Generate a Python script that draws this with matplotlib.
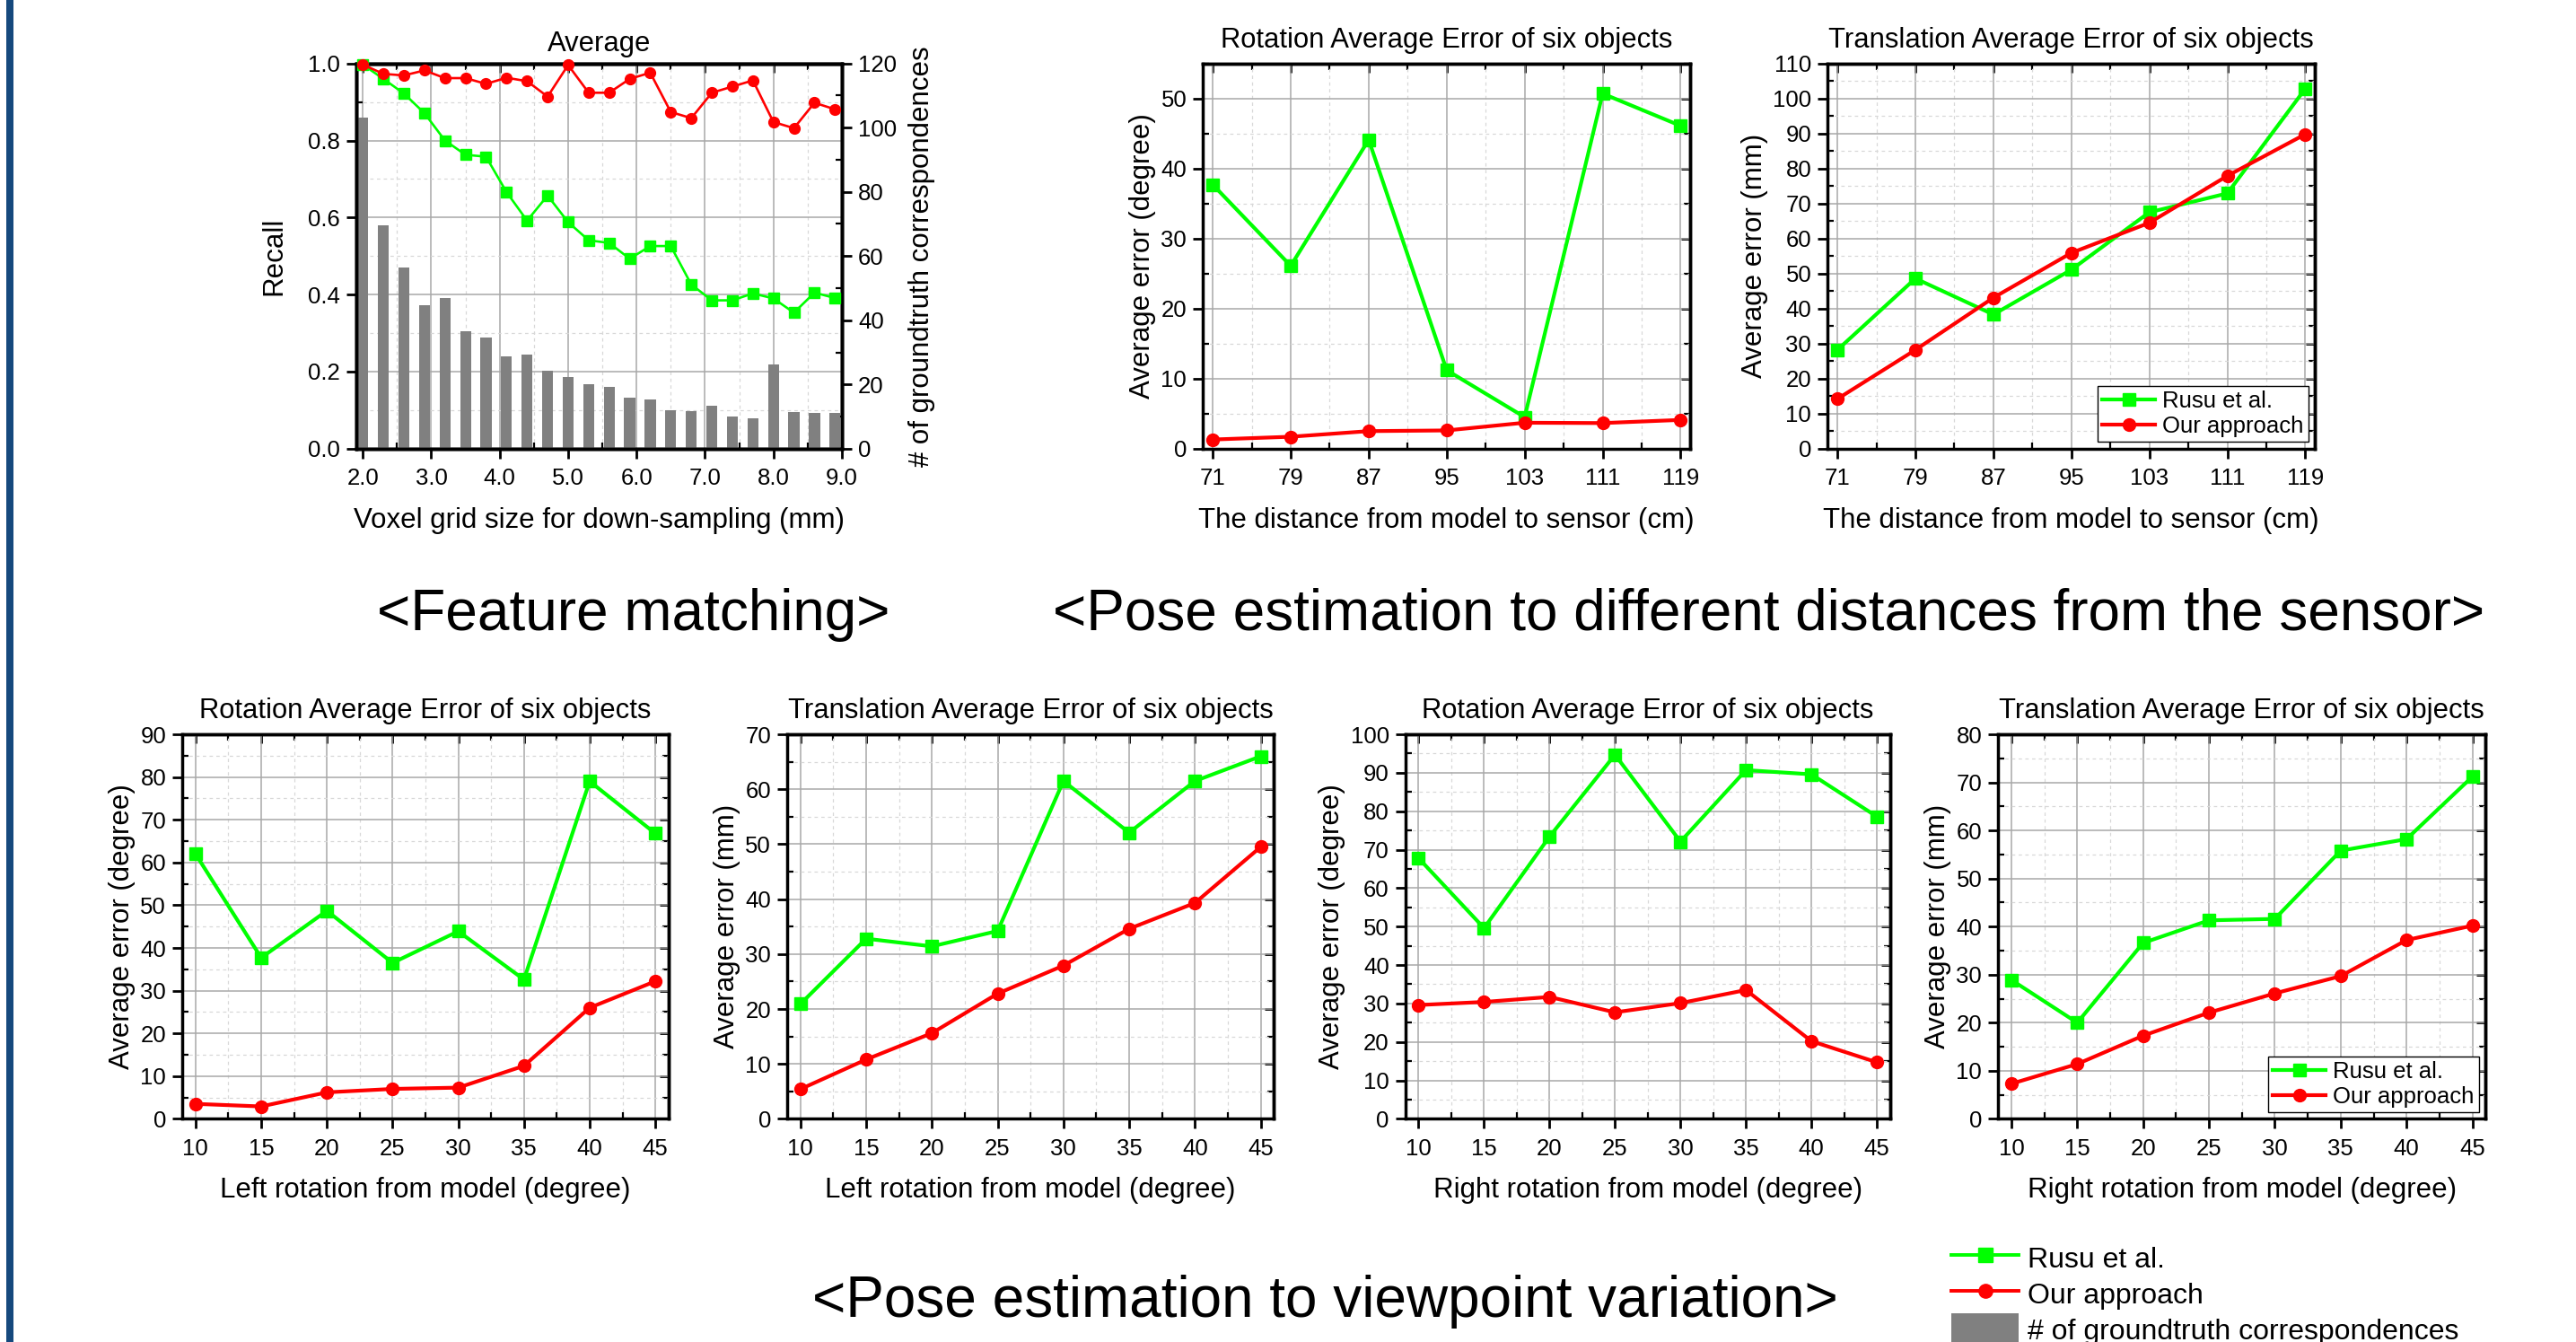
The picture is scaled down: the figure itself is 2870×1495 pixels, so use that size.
import matplotlib
matplotlib.use('Agg')
import matplotlib.pyplot as plt
from matplotlib.lines import Line2D
from matplotlib.patches import Patch, Rectangle
from matplotlib.ticker import MultipleLocator, FormatStrFormatter

plt.rcParams['font.family'] = ['Liberation Sans', 'DejaVu Sans']

# ---------------- data ----------------
voxel_sizes = [2.0, 2.3, 2.6, 2.9, 3.2, 3.5, 3.8, 4.1, 4.4, 4.7, 5.0, 5.3,
               5.6, 5.9, 6.2, 6.5, 6.8, 7.1, 7.4, 7.7, 8.0, 8.3, 8.6, 8.9]
recall_rusu = [0.997, 0.960, 0.922, 0.871, 0.800, 0.763, 0.758, 0.666, 0.592, 0.657, 0.588, 0.541,
               0.534, 0.493, 0.526, 0.526, 0.426, 0.385, 0.385, 0.403, 0.390, 0.353, 0.405, 0.391]
recall_ours = [0.997, 0.973, 0.969, 0.982, 0.962, 0.962, 0.947, 0.963, 0.954, 0.914, 0.996, 0.924,
               0.924, 0.960, 0.976, 0.874, 0.858, 0.924, 0.940, 0.956, 0.848, 0.832, 0.898, 0.881]
gt_counts = [103.1, 69.5, 56.3, 44.7, 46.8, 36.6, 34.7, 28.8, 29.3, 24.3, 22.4, 20.0,
             19.1, 15.9, 15.4, 12.0, 11.7, 13.4, 10.0, 9.5, 26.3, 11.5, 11.2, 11.0]

distances = [71, 79, 87, 95, 103, 111, 119]
dist_rot_rusu = [37.7, 26.1, 44.1, 11.2, 4.5, 50.7, 46.1]
dist_rot_ours = [1.3, 1.7, 2.5, 2.6, 3.7, 3.65, 4.1]
dist_trans_rusu = [28.2, 48.6, 38.3, 51.1, 67.5, 72.9, 102.8]
dist_trans_ours = [14.2, 28.2, 43.1, 55.9, 64.5, 77.9, 89.8]

angles = [10, 15, 20, 25, 30, 35, 40, 45]
left_rot_rusu = [62.0, 37.7, 48.7, 36.5, 43.9, 32.6, 79.0, 66.8]
left_rot_ours = [3.5, 2.9, 6.2, 7.0, 7.3, 12.4, 26.0, 32.2]
left_trans_rusu = [20.9, 32.8, 31.4, 34.2, 61.5, 52.1, 61.5, 66.0]
left_trans_ours = [5.4, 10.8, 15.6, 22.8, 27.9, 34.6, 39.3, 49.5]
right_rot_rusu = [67.8, 49.6, 73.4, 94.7, 72.1, 90.7, 89.6, 78.6]
right_rot_ours = [29.6, 30.4, 31.7, 27.7, 30.1, 33.5, 20.2, 14.7]
right_trans_rusu = [28.9, 20.0, 36.6, 41.3, 41.6, 55.8, 58.2, 71.2]
right_trans_ours = [7.3, 11.4, 17.3, 22.1, 26.1, 29.7, 37.2, 40.2]

series_names = ['Rusu et al.', 'Our approach', '# of groundtruth correspondences']

# ---------------- style ----------------
GREEN = '#00ff00'
RED = '#ff0000'
BAR = '#808080'
SP_LW = 2.5
TICK_FS = 18.5
LABEL_FS = 22.5
TITLE_FS = 22.3
LEG_FS = 18.5

fig = plt.figure(figsize=(28.7, 14.95), dpi=100)
fig.patch.set_facecolor('white')


def midpoints(v):
    return [(a + b) / 2 for a, b in zip(v[:-1], v[1:])]


def setup(ax, xticks, xminor, ystep, xlim, ylim, yfmt=None, xfmt=None, right_sec=True):
    ax.set_xlim(xlim)
    ax.set_ylim(ylim)
    ax.set_xticks(xticks)
    ax.set_xticks(xminor, minor=True)
    ax.yaxis.set_major_locator(MultipleLocator(ystep))
    ax.yaxis.set_minor_locator(MultipleLocator(ystep / 2))
    if yfmt:
        ax.yaxis.set_major_formatter(FormatStrFormatter(yfmt))
    if xfmt:
        ax.xaxis.set_major_formatter(FormatStrFormatter(xfmt))
    ax.grid(True, which='major', color='#a8a8a8', lw=1.1)
    ax.grid(True, which='minor', color='#d8d8d8', lw=0.9, ls=(0, (3, 3)))
    ax.set_axisbelow(True)
    ax.tick_params(which='major', direction='out', length=8, width=2,
                   labelsize=TICK_FS, pad=5)
    ax.tick_params(axis='x', which='major', pad=7.5)
    ax.tick_params(which='minor', direction='in', length=5, width=1.6)
    for s in ax.spines.values():
        s.set_linewidth(SP_LW)
    top = ax.secondary_xaxis('top')
    top.set_ticks(xticks)
    top.set_ticks(xminor, minor=True)
    top.tick_params(which='major', direction='in', length=7, width=2, labeltop=False)
    top.tick_params(which='minor', direction='in', length=5, width=1.6)
    top.spines['top'].set_linewidth(SP_LW)
    if right_sec:
        r = ax.secondary_yaxis('right')
        r.yaxis.set_major_locator(MultipleLocator(ystep))
        r.yaxis.set_minor_locator(MultipleLocator(ystep / 2))
        r.tick_params(which='major', direction='in', length=7, width=2, labelright=False)
        r.tick_params(which='minor', direction='in', length=5, width=1.6)
        r.spines['right'].set_linewidth(SP_LW)


def plot_pair(ax, x, rusu, ours, lw=3.0, ms=10):
    ax.plot(x, rusu, color=GREEN, marker='s', ms=ms, lw=lw, label=series_names[0],
            clip_on=False, zorder=4)
    ax.plot(x, ours, color=RED, marker='o', ms=ms, lw=lw, label=series_names[1],
            clip_on=False, zorder=5)


def add_legend(ax):
    leg = ax.legend(loc='lower right', fontsize=LEG_FS, frameon=True, fancybox=False,
                    edgecolor='black', framealpha=1, borderpad=0.2, labelspacing=0.15,
                    handlelength=2.3, handletextpad=0.3, borderaxespad=0.3)
    leg.get_frame().set_linewidth(1.0)


# ---------------- panel 1: feature matching ----------------
ax1 = fig.add_axes([0.1382, 0.6657, 0.1886, 0.2870])
setup(ax1, list(range(2, 10)), [x + 0.5 for x in range(2, 9)], 0.2, (1.9, 9.0), (0, 1.0),
      yfmt='%.1f', xfmt='%.1f', right_sec=False)
ax1.set_zorder(1)
axb = ax1.twinx()
axb.set_zorder(2)
axb.patch.set_visible(False)
axb.set_ylim(0, 120)
axb.yaxis.set_major_locator(MultipleLocator(20))
axb.yaxis.set_minor_locator(MultipleLocator(10))
axb.tick_params(axis='y', which='major', direction='out', length=8, width=2,
                labelsize=TICK_FS, pad=5)
axb.tick_params(axis='y', which='minor', direction='in', length=5, width=1.6)
for s in axb.spines.values():
    s.set_linewidth(SP_LW)
axb.bar(voxel_sizes, gt_counts, width=0.16, color=BAR, zorder=2,
        label=series_names[2])
axl = ax1.twinx()
axl.set_zorder(3)
axl.patch.set_visible(False)
axl.set_ylim(0, 1.0)
axl.yaxis.set_visible(False)
for s in axl.spines.values():
    s.set_linewidth(SP_LW)
plot_pair(axl, voxel_sizes, recall_rusu, recall_ours, lw=1.9, ms=8.5)
ax1.set_title('Average', fontsize=TITLE_FS, pad=10)
ax1.set_ylabel('Recall', fontsize=LABEL_FS, labelpad=16)
axb.set_ylabel('# of groundtruth correspondences', fontsize=LABEL_FS, labelpad=9)
ax1.set_xlabel('Voxel grid size for down-sampling (mm)', fontsize=LABEL_FS, labelpad=14)

# ---------------- panel 2 & 3: distance ----------------
ax2 = fig.add_axes([0.4670, 0.6657, 0.1892, 0.2870])
setup(ax2, distances, midpoints(distances), 10, (70, 120), (0, 55))
plot_pair(ax2, distances, dist_rot_rusu, dist_rot_ours)
ax2.set_title('Rotation Average Error of six objects', fontsize=TITLE_FS, pad=13)
ax2.set_ylabel('Average error (degree)', fontsize=LABEL_FS, labelpad=4)
ax2.set_xlabel('The distance from model to sensor (cm)', fontsize=LABEL_FS, labelpad=14)

ax3 = fig.add_axes([0.7095, 0.6657, 0.1892, 0.2870])
setup(ax3, distances, midpoints(distances), 10, (70, 120), (0, 110))
plot_pair(ax3, distances, dist_trans_rusu, dist_trans_ours)
ax3.set_title('Translation Average Error of six objects', fontsize=TITLE_FS, pad=13)
ax3.set_ylabel('Average error (mm)', fontsize=LABEL_FS, labelpad=4)
ax3.set_xlabel('The distance from model to sensor (cm)', fontsize=LABEL_FS, labelpad=14)
add_legend(ax3)

# ---------------- bottom panels: viewpoint ----------------
bottom_specs = [
    ([0.0708, 0.1663, 0.1887, 0.2865], left_rot_rusu, left_rot_ours, 90,
     'Rotation Average Error of six objects', 'Average error (degree)',
     'Left rotation from model (degree)', False),
    ([0.3056, 0.1663, 0.1889, 0.2865], left_trans_rusu, left_trans_ours, 70,
     'Translation Average Error of six objects', 'Average error (mm)',
     'Left rotation from model (degree)', False),
    ([0.5456, 0.1663, 0.1881, 0.2865], right_rot_rusu, right_rot_ours, 100,
     'Rotation Average Error of six objects', 'Average error (degree)',
     'Right rotation from model (degree)', False),
    ([0.7757, 0.1663, 0.1892, 0.2865], right_trans_rusu, right_trans_ours, 80,
     'Translation Average Error of six objects', 'Average error (mm)',
     'Right rotation from model (degree)', True),
]
for rect, rusu, ours, ytop, title, ylab, xlab, leg in bottom_specs:
    ax = fig.add_axes(rect)
    setup(ax, angles, midpoints(angles), 10, (9, 46), (0, ytop))
    plot_pair(ax, angles, rusu, ours)
    ax.set_title(title, fontsize=TITLE_FS, pad=13)
    ax.set_ylabel(ylab, fontsize=LABEL_FS, labelpad=4)
    ax.set_xlabel(xlab, fontsize=LABEL_FS, labelpad=14)
    if leg:
        add_legend(ax)

# ---------------- section captions ----------------
fig.text(706 / 2870, 1 - 701.7 / 1495, '<Feature matching>', fontsize=46,
         ha='center', va='baseline')
fig.text(1970.5 / 2870, 1 - 701.7 / 1495,
         '<Pose estimation to different distances from the sensor>', fontsize=46,
         ha='center', va='baseline')
fig.text(1476.7 / 2870, 1 - 1466.7 / 1495, '<Pose estimation to viewpoint variation>',
         fontsize=46, ha='center', va='baseline')

# ---------------- global legend ----------------
handles = [
    Line2D([], [], color=GREEN, marker='s', ms=11, lw=2.8),
    Line2D([], [], color=RED, marker='o', ms=11, lw=2.8),
    Patch(facecolor=BAR, edgecolor='none'),
]
fig.legend(handles, series_names, loc='upper left', bbox_to_anchor=(0.7575, 0.0745),
           frameon=False, fontsize=23, handlelength=2.35, handleheight=1.3,
           handletextpad=0.3, labelspacing=0.15, borderpad=0, borderaxespad=0)

# blue side bar
fig.add_artist(Rectangle((7 / 2870, 0), 8 / 2870, 1, transform=fig.transFigure,
                         facecolor='#16497d', edgecolor='none'))

fig.savefig('out.png', dpi=100, facecolor='white')
